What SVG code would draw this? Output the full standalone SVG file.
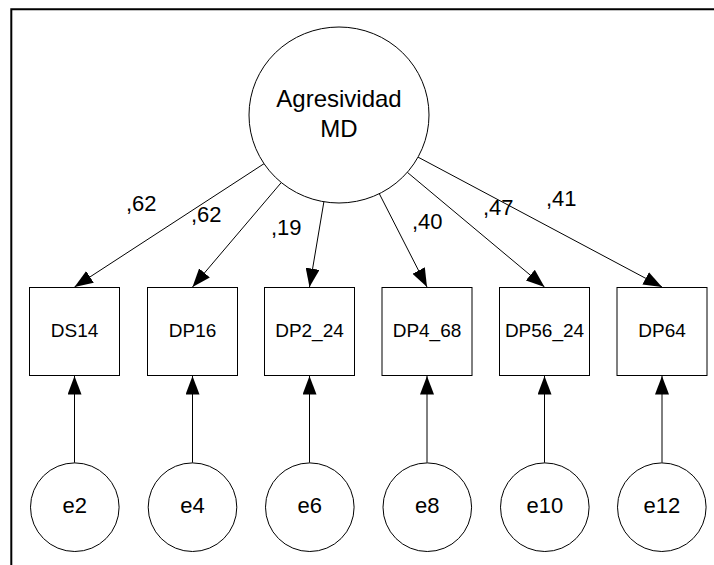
<svg xmlns="http://www.w3.org/2000/svg" width="714" height="565" viewBox="0 0 714 565">
<style>
.shape{fill:#fff;stroke:#000;stroke-width:1}
.conn{fill:none;stroke:#000;stroke-width:1}
.lbl{font-family:"Liberation Sans",Arial,sans-serif;fill:#000}
.box{font-size:19px;text-anchor:middle}
.err{font-size:22px;text-anchor:middle}
.lat{font-size:24px;text-anchor:middle}
.coef{font-size:22px}
</style>
<defs>
<marker id="arr" markerUnits="userSpaceOnUse" markerWidth="19" markerHeight="14" refX="18.5" refY="7" orient="auto">
<path d="M0,0 L18.5,7 L0,14 z" fill="#000"/>
</marker>
</defs>
<rect x="0" y="0" width="714" height="565" fill="#fff"/>
<path d="M11.3,565 V9.3 H714" fill="none" stroke="#000" stroke-width="2"/>

<g id="connectors">
<line class="conn" x1="264" y1="163.7" x2="74.5" y2="287" marker-end="url(#arr)"/>
<line class="conn" x1="281.3" y1="182.5" x2="192.5" y2="287" marker-end="url(#arr)"/>
<line class="conn" x1="323.9" y1="201.7" x2="309.5" y2="287" marker-end="url(#arr)"/>
<line class="conn" x1="379.3" y1="193.7" x2="427" y2="287" marker-end="url(#arr)"/>
<line class="conn" x1="407.3" y1="172.3" x2="544.5" y2="287" marker-end="url(#arr)"/>
<line class="conn" x1="418" y1="157.1" x2="662" y2="287" marker-end="url(#arr)"/>
<line class="conn" x1="74.5" y1="462.7" x2="74.5" y2="376" marker-end="url(#arr)"/>
<line class="conn" x1="192.5" y1="462.7" x2="192.5" y2="376" marker-end="url(#arr)"/>
<line class="conn" x1="309.5" y1="462.7" x2="309.5" y2="376" marker-end="url(#arr)"/>
<line class="conn" x1="427" y1="462.7" x2="427" y2="376" marker-end="url(#arr)"/>
<line class="conn" x1="544.5" y1="462.7" x2="544.5" y2="376" marker-end="url(#arr)"/>
<line class="conn" x1="662" y1="462.7" x2="662" y2="376" marker-end="url(#arr)"/>
<text class="lbl coef" x="126" y="211">,62</text>
<text class="lbl coef" x="191" y="221.7">,62</text>
<text class="lbl coef" x="271" y="235">,19</text>
<text class="lbl coef" x="412" y="229.3">,40</text>
<text class="lbl coef" x="483" y="215">,47</text>
<text class="lbl coef" x="546" y="206">,41</text>
</g>

<g id="agresividad">
<ellipse class="shape" cx="339" cy="115" rx="90" ry="88"/>
<text class="lbl lat" x="339" y="107.3">Agresividad</text>
<text class="lbl lat" x="339" y="136.7">MD</text>
</g>

<g id="DS14"><rect class="shape" x="29.5" y="287.5" width="90" height="88"/><text class="lbl box" x="74.5" y="337.3">DS14</text></g>
<g id="DP16"><rect class="shape" x="147.5" y="287.5" width="90" height="88"/><text class="lbl box" x="192.5" y="337.3">DP16</text></g>
<g id="DP2_24"><rect class="shape" x="264.5" y="287.5" width="90" height="88"/><text class="lbl box" x="309.5" y="337.3">DP2_24</text></g>
<g id="DP4_68"><rect class="shape" x="382" y="287.5" width="90" height="88"/><text class="lbl box" x="427" y="337.3">DP4_68</text></g>
<g id="DP56_24"><rect class="shape" x="499.5" y="287.5" width="90" height="88"/><text class="lbl box" x="544.5" y="337.3">DP56_24</text></g>
<g id="DP64"><rect class="shape" x="617" y="287.5" width="90" height="88"/><text class="lbl box" x="662" y="337.3">DP64</text></g>

<g id="e2"><circle class="shape" cx="74.8" cy="507.2" r="44.3"/><text class="lbl err" x="74.8" y="513.3">e2</text></g>
<g id="e4"><circle class="shape" cx="192.5" cy="507.2" r="44.3"/><text class="lbl err" x="192.5" y="513.3">e4</text></g>
<g id="e6"><circle class="shape" cx="309.8" cy="507.2" r="44.3"/><text class="lbl err" x="309.8" y="513.3">e6</text></g>
<g id="e8"><circle class="shape" cx="427.3" cy="507.2" r="44.3"/><text class="lbl err" x="427.3" y="513.3">e8</text></g>
<g id="e10"><circle class="shape" cx="544.8" cy="507.2" r="44.3"/><text class="lbl err" x="544.8" y="513.3">e10</text></g>
<g id="e12"><circle class="shape" cx="661.8" cy="507.2" r="44.3"/><text class="lbl err" x="661.8" y="513.3">e12</text></g>
</svg>
